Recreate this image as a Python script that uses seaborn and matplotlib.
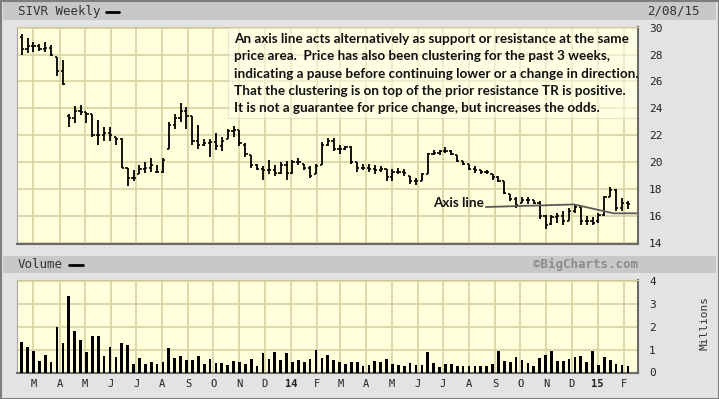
import numpy as np
import pandas as pd
import matplotlib
matplotlib.use("Agg")
import matplotlib.pyplot as plt
import matplotlib.dates as mdates
from matplotlib.patches import Rectangle
from matplotlib.lines import Line2D
import seaborn as sns

# ---------------- data ----------------
week_dates = pd.date_range("2013-02-15", periods=104, freq="7D")

highs = [29.5, 29.2, 28.9, 28.8, 28.9, 28.7, 27.8, 27.6, 23.6, 24.2,
         24.25, 23.7, 23.6, 23.1, 22.6, 22.6, 21.9, 21.8, 19.6, 19.4,
         19.8, 20.0, 20.3, 19.8, 20.3, 23.0, 23.6, 24.4, 24.1, 23.4,
         22.8, 21.7, 21.7, 22.2, 21.9, 22.5, 22.7, 22.4, 21.4, 20.5,
         19.9, 19.7, 20.2, 19.8, 20.0, 20.1, 20.2, 20.3, 19.9, 19.7,
         19.9, 21.5, 21.8, 21.8, 21.3, 21.2, 21.2, 20.0, 19.9, 19.9,
         19.8, 19.7, 19.5, 19.5, 19.6, 19.5, 19.0, 18.8, 19.2, 20.7,
         20.9, 20.9, 21.1, 20.9, 20.5, 20.1, 19.9, 19.7, 19.4, 19.4,
         19.1, 19.0, 18.6, 17.6, 17.4, 17.4, 17.4, 17.2, 17.1, 16.1,
         16.1, 16.2, 16.4, 16.6, 16.85, 16.7, 16.0, 15.9, 16.2, 17.5,
         18.15, 18.0, 17.35, 17.1]
lows = [27.95, 28.1, 28.2, 28.3, 28.2, 27.9, 26.4, 25.7, 22.6, 22.9,
        23.5, 22.9, 21.9, 21.3, 21.6, 21.6, 21.3, 19.6, 18.2, 18.6,
        19.1, 19.2, 19.3, 19.2, 19.2, 21.0, 22.5, 23.0, 22.5, 21.3,
        21.0, 21.2, 20.4, 20.9, 20.8, 21.7, 21.9, 21.2, 20.4, 19.6,
        19.4, 18.7, 19.1, 19.0, 19.1, 18.7, 19.1, 19.8, 19.4, 18.8,
        19.1, 19.8, 21.2, 20.8, 20.6, 20.9, 19.9, 19.3, 19.4, 19.3,
        19.1, 19.3, 18.6, 18.6, 19.1, 19.0, 18.4, 18.3, 18.6, 19.1,
        20.5, 20.5, 20.65, 20.5, 20.0, 19.8, 19.4, 19.2, 19.1, 19.1,
        18.7, 18.5, 17.6, 17.1, 16.6, 17.0, 16.9, 16.9, 15.75, 15.0,
        15.3, 15.5, 15.3, 15.6, 16.2, 15.3, 15.3, 15.3, 15.5, 16.0,
        17.4, 16.4, 16.36, 16.5]
opens = [29.3, 28.4, 28.6, 28.6, 28.4, 28.5, 27.8, 26.8, 23.4, 23.3,
         23.8, 23.7, 23.6, 22.0, 22.0, 22.2, 21.9, 21.7, 19.6, 18.8,
         19.1, 19.5, 19.6, 19.3, 19.3, 21.0, 22.8, 23.3, 23.8, 23.4,
         21.6, 21.3, 21.4, 21.5, 21.2, 21.7, 22.3, 22.4, 21.3, 20.5,
         19.8, 19.5, 19.4, 19.4, 19.2, 19.8, 19.2, 20.0, 19.9, 19.6,
         19.1, 19.8, 21.3, 21.6, 21.0, 21.0, 21.1, 20.0, 19.6, 19.6,
         19.5, 19.4, 19.5, 18.9, 19.3, 19.3, 19.0, 18.6, 18.6, 19.1,
         20.6, 20.7, 20.8, 20.8, 20.5, 20.1, 19.9, 19.5, 19.4, 19.3,
         19.1, 18.9, 18.6, 17.6, 17.3, 17.0, 17.2, 17.2, 17.0, 16.0,
         15.4, 15.9, 16.0, 15.6, 16.4, 16.7, 15.6, 15.6, 15.6, 16.1,
         17.4, 17.9, 16.6, 17.0]
closes = [28.4, 28.6, 28.6, 28.4, 28.5, 28.0, 26.8, 25.8, 23.3, 23.8,
          23.7, 23.6, 22.0, 22.0, 22.2, 22.0, 21.7, 19.6, 18.8, 18.8,
          19.5, 19.6, 19.8, 19.3, 20.2, 22.8, 23.3, 23.8, 23.4, 21.6,
          21.3, 21.4, 21.5, 21.2, 21.6, 22.3, 22.4, 21.4, 20.6, 19.8,
          19.5, 19.4, 19.4, 19.2, 19.8, 19.2, 20.0, 20.0, 19.6, 19.0,
          19.7, 21.3, 21.6, 21.0, 21.0, 21.1, 20.0, 19.6, 19.6, 19.5,
          19.4, 19.5, 18.9, 19.3, 19.3, 19.2, 18.6, 18.6, 19.1, 20.6,
          20.7, 20.8, 20.8, 20.6, 20.1, 19.9, 19.5, 19.4, 19.3, 19.3,
          18.9, 18.6, 17.7, 17.3, 16.8, 17.2, 17.2, 17.0, 16.0, 15.3,
          15.9, 16.0, 15.6, 16.4, 16.7, 15.6, 15.6, 15.5, 16.1, 17.4,
          17.9, 16.6, 17.0, 16.9]
volume = [1.32, 1.10, 0.93, 0.51, 0.76, 0.48, 1.99, 1.27, 3.33, 1.81,
          1.40, 0.89, 1.61, 1.61, 0.72, 1.10, 0.69, 1.31, 1.18, 0.38,
          0.64, 0.39, 0.48, 0.39, 0.48, 1.05, 0.63, 0.72, 0.53, 0.53,
          0.72, 0.39, 0.60, 0.42, 0.42, 0.31, 0.51, 0.44, 0.39, 0.60,
          0.28, 0.85, 0.60, 0.89, 0.53, 0.85, 0.44, 0.53, 0.44, 0.60,
          0.98, 0.64, 0.76, 0.53, 0.48, 0.39, 0.48, 0.48,
          0.28, 0.31, 0.51, 0.48, 0.60, 0.39, 0.31, 0.28, 0.42, 0.31,
          0.31, 0.89, 0.42, 0.23, 0.35, 0.39, 0.28, 0.28, 0.28, 0.28,
          0.28, 0.28, 0.39, 0.95, 0.51, 0.48, 0.69, 0.55, 0.42, 0.28,
          0.64, 0.76, 0.92, 0.51, 0.51, 0.60, 0.66, 0.72, 0.44, 0.95,
          0.31, 0.66, 0.53, 0.39, 0.31, 0.28]

month_ticks = pd.date_range("2013-03-01", "2015-02-01", freq="MS")
month_labels = ["M", "A", "M", "J", "J", "A", "S", "O", "N", "D", "14", "F",
                "M", "A", "M", "J", "J", "A", "S", "O", "N", "D", "15", "F"]
price_ticks = [14, 16, 18, 20, 22, 24, 26, 28, 30]
volume_ticks = [0, 1, 2, 3, 4]

axis_dates = pd.to_datetime(["2014-08-21", "2014-12-04", "2015-01-20", "2015-02-16"])
axis_prices = [16.67, 16.86, 16.2, 16.2]

note_lines = [
    "An axis line acts alternatively as support or resistance at the same",
    "price area.  Price has also been clustering for the past 3 weeks,",
    "indicating a pause before continuing lower or a change in direction.",
    "That the clustering is on top of the prior resistance TR is positive.",
    "It is not a guarantee for price change, but increases the odds.",
]

# ---------------- style ----------------
sns.set_style("white")
plt.rcParams["font.family"] = ["DejaVu Sans"]
MONO = "DejaVu Sans Mono"
BG = "#ffffdc"
GRID = "#d9d1a0"

W, H = 719, 399
fig = plt.figure(figsize=(W / 100, H / 100), dpi=100)
fig.patch.set_facecolor("#e3e3e3")


def box(x0, y0, x1, y1):
    return [x0 / W, 1 - y1 / H, (x1 - x0) / W, (y1 - y0) / H]


for (y0, y1) in [(2, 20), (256, 272.5)]:
    fig.patches.append(Rectangle((3 / W, 1 - y1 / H), 713 / W, (y1 - y0) / H,
                                 transform=fig.transFigure, facecolor="#c8c8c8",
                                 edgecolor="none", zorder=0))
fig.patches.append(Rectangle((0.5 / W, 0.5 / H), 718 / W, 398 / H,
                             transform=fig.transFigure, fill=False,
                             edgecolor="#7d7d7d", lw=1.5, zorder=0))

xnum = mdates.date2num(week_dates)
xlim = (mdates.date2num(pd.Timestamp("2013-02-09 10:00")),
        mdates.date2num(pd.Timestamp("2015-02-18")))
mnum = mdates.date2num(month_ticks)


def style_axes(ax):
    ax.set_facecolor(BG)
    ax.set_xlim(*xlim)
    ax.set_xticks(mnum)
    ax.grid(True, color=GRID, lw=1.2)
    ax.set_axisbelow(True)
    ax.yaxis.tick_right()
    ax.tick_params(length=0, labelsize=8, labelcolor="#222222")
    for lab in ax.get_yticklabels():
        lab.set_family(MONO)
    ax.spines["left"].set_color("#a8a8a8")
    ax.spines["top"].set_color("#cfc79a")
    for s in ("right", "bottom"):
        ax.spines[s].set_color("#6a6a6a")
        ax.spines[s].set_linewidth(1.5)


# ---------------- price panel ----------------
axp = fig.add_axes(box(17, 26.7, 638, 244))
axp.vlines(xnum, lows, highs, color="black", lw=1.3, zorder=3)
axp.hlines(opens, xnum - 2.6, xnum, color="black", lw=1.2, zorder=3)
axp.hlines(closes, xnum, xnum + 2.6, color="black", lw=1.2, zorder=3)
sns.lineplot(x=mdates.date2num(axis_dates), y=axis_prices, ax=axp,
             color="#5a5a5a", lw=1.3, zorder=4)
axp.set_ylim(13.92, 30.07)
axp.set_yticks(price_ticks)
axp.set_yticklabels([str(t) for t in price_ticks])
style_axes(axp)
axp.set_xticklabels([])
axp.tick_params(axis="y", pad=8)

note_box = Rectangle(((228 - 17) / 621, 1 - (118 - 26.7) / 217.3), (638 - 228) / 621,
                     (118 - 26.7) / 217.3, transform=axp.transAxes,
                     facecolor="#ffffea", alpha=0.55, edgecolor="#cfcfb8",
                     lw=0.8, zorder=2)
axp.add_patch(note_box)

# note text, fitted to reference width
renderer = fig.canvas.get_renderer()
probe = fig.text(0, 0, note_lines[2], family="Lato", weight="bold", size=10)
wpx = probe.get_window_extent(renderer).width
probe.remove()
fs = 10 * 403 / wpx
for i, line in enumerate(note_lines):
    fig.text(234 / W, 1 - (39 + 17.3 * i) / H, line, family="Lato",
             weight="bold", size=fs, va="center", ha="left", color="#111111",
             zorder=5)

axp.text(mdates.date2num(pd.Timestamp("2014-08-19")), 16.95, "Axis line",
         family="Lato", weight="bold", size=fs, ha="right", va="center",
         color="#111111", zorder=5)

# ---------------- volume panel ----------------
axv = fig.add_axes(box(17, 280, 638, 372.5))
sns.barplot(x=xnum, y=volume, native_scale=True, orient="x", color="black",
            saturation=1, width=0.46, errorbar=None, ax=axv, zorder=3,
            linewidth=0, edgecolor="black")
axv.set_ylim(0, 4.04)
axv.set_yticks(volume_ticks)
axv.set_yticklabels([str(t) for t in volume_ticks])
axv.set_xlabel("")
axv.set_ylabel("")
style_axes(axv)
axv.set_xticklabels(month_labels)
axv.tick_params(axis="y", pad=8)
axv.tick_params(axis="x", pad=4.5)
for lab in axv.get_xticklabels():
    lab.set_family(MONO)
    lab.set_fontsize(7.5)
    if lab.get_text() in ("14", "15"):
        lab.set_weight("bold")

# ---------------- headers ----------------
fig.text(18 / W, 1 - 11.5 / H, "SIVR Weekly", family=MONO, size=9,
         va="center", ha="left", color="#333333")
fig.add_artist(Line2D([106 / W, 119 / W], [1 - 11.5 / H] * 2, color="black", lw=2))
fig.text(700 / W, 1 - 11.5 / H, "2/08/15", family=MONO, size=9,
         va="center", ha="right", color="#333333")
fig.text(18 / W, 1 - 264.5 / H, "Volume", family=MONO, size=9,
         va="center", ha="left", color="#333333")
fig.add_artist(Line2D([69 / W, 83 / W], [1 - 264.5 / H] * 2, color="black", lw=2))
fig.text(638 / W, 1 - 264.5 / H, "\u00a9BigCharts.com", family=MONO, size=9,
         weight="bold", va="center", ha="right", color="#8c8c8c")
fig.text(704 / W, 1 - 323 / H, "Millions", family=MONO, size=8, rotation=90,
         va="center", ha="center", color="#333333")

fig.savefig("out.png", dpi=100, facecolor=fig.get_facecolor())
